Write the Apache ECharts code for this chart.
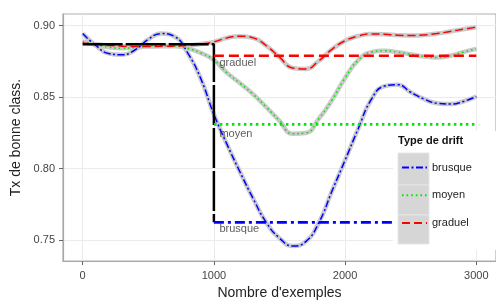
<!DOCTYPE html>
<html><head><meta charset="utf-8">
<script src="https://cdn.jsdelivr.net/npm/echarts@6/dist/echarts.min.js"></script>
<style>html,body{margin:0;padding:0;background:#fff}#c{width:496px;height:305px}</style>
</head><body><div id="c"></div>
<script>
// ---- data ----
const sampleX = [0,100,200,300,400,500,600,700,800,900,1000,1100,1200,1300,1400,1500,1600,1700,1800,1900,2000,2100,2200,2300,2400,2500,2600,2700,2800,2900,3000];
const brusqueSmooth = [0.8945,0.8862,0.8805,0.8797,0.8832,0.8905,0.8945,0.8925,0.8810,0.8630,0.8380,0.8170,0.7975,0.7790,0.7623,0.7515,0.7460,0.7490,0.7623,0.7844,0.8060,0.8280,0.8485,0.8578,0.8588,0.8535,0.8488,0.8458,0.8452,0.8470,0.8505];
const moyenSmooth   = [0.8890,0.8868,0.8850,0.8843,0.8848,0.8856,0.8860,0.8858,0.8842,0.8810,0.8760,0.8670,0.8597,0.8520,0.8430,0.8335,0.8245,0.8250,0.8350,0.8480,0.8635,0.8760,0.8815,0.8825,0.8815,0.8800,0.8785,0.8778,0.8790,0.8815,0.8838];
const graduelSmooth = [0.8880,0.8870,0.8862,0.8857,0.8854,0.8855,0.8856,0.8858,0.8862,0.8872,0.8887,0.8915,0.8927,0.8915,0.8860,0.8780,0.8705,0.8698,0.8755,0.8835,0.8895,0.8928,0.8942,0.8940,0.8934,0.8931,0.8935,0.8945,0.8960,0.8975,0.8990];
const stepX = [0,1000,1000];
const stepY = [0.887,0.887,0.7625];
const refX = [1000,3000];
const brusqueRef = [0.7625,0.7625];
const moyenRef   = [0.831,0.831];
const graduelRef = [0.879,0.879];
const xTicks = [0,1000,2000,3000];
const yTicks = [0.75,0.80,0.85,0.90];
const driftNames = ['brusque','moyen','graduel'];

// ---- build ----
const zip = (xs, ys) => xs.map((x, i) => [x, ys[i]]);
const FONT = 'Liberation Sans';
const colors = {brusque:'#0000ff', moyen:'#00e600', graduel:'#ff0000'};
const smoothDash = {brusque:[7,2.5,2,2.5], moyen:[1.6,3], graduel:[8,4]};
const refDash = {brusque:[10,4,3,4], moyen:[2.5,3.5], graduel:[10,5]};
const smoothData = {brusque:brusqueSmooth, moyen:moyenSmooth, graduel:graduelSmooth};
const refData = {brusque:brusqueRef, moyen:moyenRef, graduel:graduelRef};
const labelOff = {brusque:7, moyen:10, graduel:7.5};

const series = [];
driftNames.forEach(n => {
  series.push({name: 'band_' + n, type:'line', smooth:0.5, symbol:'none', silent:true, z:1,
    data: zip(sampleX, smoothData[n]), lineStyle:{color:'#cacaca', width:4.5}});
});
driftNames.forEach(n => {
  series.push({name: n, type:'line', smooth:0.5, symbol:'none', z:2,
    data: zip(sampleX, smoothData[n]), itemStyle:{color:colors[n]},
    lineStyle:{color:colors[n], width:1.5, type:smoothDash[n]}});
});
series.push({name:'step', type:'line', symbol:'none', z:3, data: zip(stepX, stepY),
  lineStyle:{color:'#000', width:2.5, type:[40,3]}});
driftNames.forEach(n => {
  series.push({name: n, type:'line', symbol:'none', z:3,
    itemStyle:{color:colors[n]},
    lineStyle:{color:colors[n], width:2.6, type:refDash[n]},
    data: zip(refX, refData[n])});
});
series.push({name:'labels', type:'scatter', symbol:'circle', symbolSize:1, z:4, silent:true,
  itemStyle:{color:'rgba(0,0,0,0)'},
  label:{show:true, position:'right'},
  data: driftNames.map(n => ({name:n, value:[refX[0], refData[n][0]],
    label:{show:true, formatter:n, position:[6, labelOff[n]], align:'left', verticalAlign:'middle',
      fontFamily:FONT, fontSize:11, color:'#333'}}))});

const chart = echarts.init(document.getElementById('c'));
chart.setOption({
  animation:false,
  backgroundColor:'#fff',
  textStyle:{fontFamily:FONT},
  title:{text:'Type de drift', left:398, top:135, padding:0, z:20,
    textStyle:{fontFamily:FONT, fontSize:11, fontWeight:'bold', color:'#111'}},
  grid:{left:63, top:14, width:435, height:252, show:true, borderColor:'#b0b0b0', borderWidth:1.2, backgroundColor:'#fff'},
  xAxis:[{type:'value', min:-150, max:3150, minInterval:1000, maxInterval:1000,
    name:"Nombre d'exemples", nameLocation:'middle', nameGap:24,
    nameTextStyle:{fontFamily:FONT, fontSize:14, color:'#222'},
    axisLine:{show:true, onZero:false, lineStyle:{color:'#a8a8a8', width:1.2}},
    axisTick:{show:true, length:4, customValues:xTicks, lineStyle:{color:'#666'}},
    axisLabel:{customValues:xTicks, margin:9, fontSize:11, color:'#444', fontFamily:FONT, formatter:v => String(v)},
    splitLine:{show:true, lineStyle:{color:'#ebebeb', width:1}}},
   {type:'value', gridIndex:0, position:'bottom', min:-150, max:3150, minInterval:500, maxInterval:500, z:-1,
    axisLine:{show:false}, axisTick:{show:false}, axisLabel:{show:false},
    splitLine:{show:true, lineStyle:{color:'#f5f5f5', width:1}}}],
  yAxis:[{type:'value', min:0.7354, max:0.9082, minInterval:0.05, maxInterval:0.05,
    name:'Tx de bonne class.', nameLocation:'middle', nameGap:37,
    nameTextStyle:{fontFamily:FONT, fontSize:14, color:'#222'},
    axisLine:{show:true, onZero:false, lineStyle:{color:'#a8a8a8', width:1.2}},
    axisTick:{show:true, length:4, customValues:yTicks, lineStyle:{color:'#666'}},
    axisLabel:{customValues:yTicks, margin:8, fontSize:11, color:'#444', fontFamily:FONT,
      formatter:v => v.toFixed(2)},
    splitLine:{show:true, lineStyle:{color:'#ebebeb', width:1}}},
   {type:'value', min:0.7354, max:0.9082, minInterval:0.025, maxInterval:0.025, z:-1,
    axisLine:{show:false}, axisTick:{show:false}, axisLabel:{show:false},
    splitLine:{show:true, lineStyle:{color:'#f5f5f5', width:1}}}],
  legend:{data:driftNames, orient:'vertical', left:401, top:162, itemWidth:25, itemHeight:14, itemGap:16.5,
    padding:0, z:20, selectedMode:false,
    itemStyle:{opacity:0, borderWidth:0},
    textStyle:{fontFamily:FONT, fontSize:11, color:'#222'}},
  graphic:[
    {type:'rect', z:10, shape:{x:393, y:131, width:110, height:119}, style:{fill:'#fff'}},
    {type:'rect', z:11, shape:{x:398, y:153, width:31, height:32}, style:{fill:'#d6d6d6', stroke:'#e6e6e6', lineWidth:1}},
    {type:'rect', z:11, shape:{x:398, y:185, width:31, height:30}, style:{fill:'#d6d6d6', stroke:'#e6e6e6', lineWidth:1}},
    {type:'rect', z:11, shape:{x:398, y:215, width:31, height:29}, style:{fill:'#d6d6d6', stroke:'#e6e6e6', lineWidth:1}}
  ],
  series: series
});
</script></body></html>
